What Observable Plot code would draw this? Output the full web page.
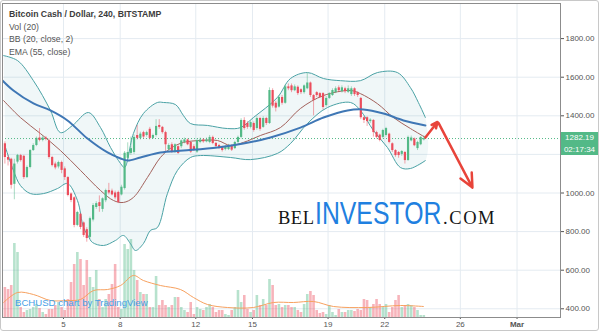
<!DOCTYPE html>
<html><head><meta charset="utf-8">
<script src="https://cdn.jsdelivr.net/npm/d3@7"></script>
<script src="https://cdn.jsdelivr.net/npm/@observablehq/plot@0.6"></script>
<style>
body{margin:0;background:#fff;}
#wrap{position:relative;width:600px;height:334px;overflow:hidden;background:#fff;font-family:"Liberation Sans",Arial,sans-serif;}
#wrap svg{position:absolute;left:0;top:0;}
.ov{position:absolute;white-space:nowrap;line-height:1;}
</style></head><body><div id="wrap"></div>
<script>
// ---- Data (Bitcoin Cash / Dollar, 4h candles, Feb 2018; x = day of February) ----
const firstCandleDay = 1.9;
const candleStep = 1 / 6;
const opens = [1255,1184,1175,1045,1160,1194,1190,1080,1132,1220,1246,1285,1272,1285,1270,1184,1150,1135,1158,1125,1080,995,975,832,890,845,810,770,860,925,950,915,960,1013,1010,1000,1003,990,1023,1180,1205,1210,1298,1283,1313,1298,1330,1283,1298,1350,1340,1313,1225,1250,1212,1240,1240,1262,1275,1262,1240,1212,1262,1275,1265,1262,1288,1257,1246,1236,1225,1225,1243,1230,1262,1288,1376,1360,1340,1360,1334,1386,1340,1386,1360,1531,1465,1445,1495,1465,1550,1555,1530,1548,1535,1520,1540,1570,1505,1520,1515,1515,1453,1490,1505,1520,1545,1525,1540,1522,1510,1540,1520,1490,1390,1390,1370,1376,1313,1300,1288,1298,1305,1255,1220,1210,1200,1210,1168,1270,1280,1230,1250,1275];
const highs = [1265,1195,1180,1175,1200,1200,1195,1140,1225,1255,1290,1334,1295,1293,1280,1190,1160,1165,1165,1135,1085,1000,980,905,895,850,820,875,945,955,985,975,1020,1050,1020,1010,1010,1040,1215,1260,1290,1300,1350,1315,1320,1320,1340,1305,1380,1380,1345,1320,1255,1260,1255,1245,1275,1285,1280,1265,1250,1280,1285,1282,1285,1298,1295,1262,1252,1242,1245,1252,1250,1268,1295,1385,1390,1370,1372,1368,1395,1392,1395,1392,1545,1540,1475,1505,1505,1560,1565,1565,1560,1555,1540,1560,1620,1575,1510,1525,1520,1520,1500,1520,1540,1550,1555,1555,1548,1555,1550,1545,1525,1495,1395,1395,1385,1380,1320,1305,1330,1340,1310,1260,1225,1215,1220,1215,1295,1295,1285,1268,1292,1295];
const lows = [1150,1140,1020,965,1150,1160,1070,1075,1125,1215,1240,1265,1265,1270,1175,1135,1120,1125,1100,1065,980,950,820,825,810,770,745,760,850,915,900,900,950,990,985,965,945,985,1015,1175,1195,1200,1275,1275,1280,1290,1275,1278,1290,1330,1305,1215,1215,1205,1205,1200,1230,1255,1245,1205,1215,1205,1255,1258,1260,1255,1250,1235,1225,1212,1218,1220,1215,1225,1255,1280,1325,1330,1332,1315,1325,1320,1335,1350,1355,1440,1420,1440,1455,1460,1530,1520,1525,1505,1510,1512,1535,1495,1400,1495,1490,1430,1445,1485,1500,1515,1520,1518,1515,1515,1500,1500,1495,1380,1360,1345,1360,1290,1280,1265,1280,1290,1255,1210,1185,1180,1190,1150,1165,1265,1240,1220,1245,1270];
const closes = [1184,1170,1040,1150,1195,1168,1080,1132,1220,1246,1283,1272,1285,1278,1184,1142,1130,1158,1117,1080,987,961,832,899,821,780,764,867,935,945,930,970,1013,1000,990,975,951,1030,1206,1210,1230,1288,1283,1305,1290,1313,1283,1298,1345,1340,1313,1250,1246,1215,1250,1205,1270,1275,1250,1212,1225,1272,1275,1265,1275,1288,1257,1241,1236,1220,1238,1246,1222,1262,1288,1376,1334,1340,1365,1324,1386,1330,1386,1360,1531,1450,1440,1495,1465,1550,1540,1530,1550,1515,1520,1555,1570,1505,1480,1505,1495,1443,1490,1515,1531,1540,1530,1545,1525,1540,1540,1510,1505,1390,1376,1370,1378,1313,1288,1272,1324,1334,1262,1220,1194,1194,1215,1168,1288,1285,1245,1262,1288,1282];
const volumes = [30,28,32,74,65,10,5,7,8,10,13,9,5,3,8,8,12,15,10,7,18,35,53,65,58,32,57,40,30,47,18,10,18,23,33,53,10,8,73,68,78,47,37,25,23,23,10,10,41,12,17,12,10,12,20,20,10,7,5,15,3,10,8,7,10,13,10,5,7,7,3,2,7,10,27,15,22,8,5,7,22,12,18,12,38,32,12,13,10,12,12,10,10,7,5,13,23,26,22,7,4,5,3,12,5,2,8,5,5,7,7,6,8,7,18,17,10,13,18,13,10,13,5,10,17,22,10,12,13,12,10,7,2,2];
const volMaDays = [1.83,2.57,3.41,4.31,5.21,5.90,6.59,7.33,8.02,8.70,9.23,10.13,11.19,11.88,12.62,13.68,15.05,16.11,17.17,18.23,19.29,21.08,22.83,24.05];
const volMaVals = [15,25,23,17,17,18,27,28,32,42,37,32,28,20,13,10,10,15,15,16,11,10,12,11];
const upperDays = [1.83,2.57,3.41,4.31,4.84,5.48,6.32,6.96,7.49,8.02,8.23,8.70,9.23,9.97,10.29,10.93,11.35,11.72,12.62,13.68,14.37,15.05,16.32,17.01,17.91,18.76,19.66,20.71,21.61,22.67,23.36,23.78,24.15];
const upperVals = [1712,1686,1582,1428,1313,1350,1417,1339,1236,1153,1132,1308,1412,1469,1469,1458,1401,1360,1350,1334,1339,1391,1495,1593,1624,1593,1582,1582,1624,1624,1546,1469,1391];
const lowerDays = [1.93,2.35,2.72,3.25,3.94,4.68,5.21,5.74,6.06,6.32,6.53,7.12,7.75,8.17,8.54,8.81,9.23,9.60,9.97,10.50,11.03,11.72,12.25,13.84,14.89,16.32,17.01,17.91,18.97,20.19,20.71,21.40,22.14,22.83,23.36,24.15];
const lowerVals = [1236,1117,1039,997,997,1023,1049,961,821,775,744,728,754,780,738,702,738,806,821,997,1117,1184,1194,1184,1173,1205,1256,1360,1443,1469,1428,1324,1236,1132,1127,1168];
const midDays = [1.83,2.72,3.78,4.84,5.90,6.96,7.65,8.17,8.70,9.44,10.13,10.66,11.35,12.25,13.15,13.84,14.52,15.42,16.48,17.54,18.76,20.19,20.71,21.61,22.46,23.36,24.15];
const midVals = [1479,1391,1308,1220,1117,1013,961,951,977,1080,1184,1231,1262,1272,1272,1246,1262,1298,1339,1438,1505,1531,1515,1463,1391,1334,1288];
const emaDays = [1.77,2.35,3.41,4.31,5.21,6.27,7.33,8.02,8.39,9.07,10.13,11.35,13.15,14.52,15.95,17.54,18.76,20.03,20.87,21.93,22.99,24.15];
const emaVals = [1583,1531,1464,1428,1376,1282,1210,1179,1168,1184,1210,1220,1236,1256,1288,1339,1391,1428,1433,1412,1376,1350];
const lastPrice = 1282.19;
const lastPriceText = "1282.19";
const countdownText = "02:17:34";
const priceTicks = [400,600,800,1000,1200,1400,1600,1800];
const priceTickLabelsShown = [400,600,800,1000,1400,1600,1800]; // 1200.00 sits under the price label boxes
const dayTicks = [5,8,12,15,19,22,26,29];
const dayTickLabels = ["5","8","12","15","19","22","26","Mar"];
const arrowFromDay = [24.15, 24.85];
const arrowFromPrice = [1288, 1362];
const arrowToDay = [24.79, 26.64];
const arrowToPrice = [1368, 1028];
const titleLines = ["Bitcoin Cash / Dollar, 240, BITSTAMP","Vol (20)","BB (20, close, 2)","EMA (55, close)"];

// ---- Build tables ----
const UP = "#53b987", DOWN = "#eb4d5c";
const candles = opens.map((o, i) => ({t: firstCandleDay + i * candleStep, o, h: highs[i], l: lows[i], c: closes[i], v: volumes[i]}));
const pts = (ds, vs) => ds.map((t, i) => ({t, v: vs[i]}));
const upper = pts(upperDays, upperVals), lower = pts(lowerDays, lowerVals);
const mid = pts(midDays, midVals), ema = pts(emaDays, emaVals), vma = pts(volMaDays, volMaVals);
const bandPoly = upper.concat(lower.slice().reverse());
const arrows = arrowFromDay.map((d, i) => ({x1: d, y1: arrowFromPrice[i], x2: arrowToDay[i], y2: arrowToPrice[i]}));

const W = 600, H = 334;
const M = {marginLeft: 2, marginRight: 40, marginTop: 3, marginBottom: 17};
const X = {domain: [1.773, 31.3]};
const Y = {domain: [354.9, 1981.9]};
const common = {width: W, height: H, ...M, color: {type: "identity"}};
const st = {background: "transparent", fontFamily: "Liberation Sans, Arial, sans-serif", fontSize: "8px", overflow: "visible"};

// Layer 1: grid, axes
const baseLayer = Plot.plot({...common, style: {...st, background: "#fff"},
  x: {...X, axis: null}, y: {...Y, axis: null},
  marks: [
    Plot.gridX(dayTicks, {stroke: "#e4ebf1", strokeOpacity: 1}),
    Plot.gridY(priceTicks, {stroke: "#e4ebf1", strokeOpacity: 1}),
    Plot.axisY(priceTickLabelsShown, {anchor: "right", tickFormat: d => d.toFixed(2), tickSize: 3, tickPadding: 2, color: "#555", fontSize: 8}),
    Plot.axisX(dayTicks.slice(0, -1), {anchor: "bottom", tickFormat: d => dayTickLabels[dayTicks.indexOf(d)], tickSize: 2, tickPadding: 2, color: "#555", fontSize: 8}),
    Plot.axisX(dayTicks.slice(-1), {anchor: "bottom", tickFormat: d => dayTickLabels[dayTicks.indexOf(d)], tickSize: 2, tickPadding: 2, color: "#555", fontSize: 8, fontWeight: "bold"})
  ]});

// Layer 2: volume
const volLayer = Plot.plot({...common, style: st,
  x: {...X, axis: null}, y: {domain: [0, 314], axis: null},
  marks: [
    Plot.ruleX(candles, {x: "t", y1: 0, y2: "v", stroke: d => d.c >= d.o ? UP : DOWN, strokeOpacity: 0.42, strokeWidth: 2.6}),
    Plot.line(vma, {x: "t", y: "v", stroke: "#f7a15f", strokeWidth: 1, curve: "catmull-rom"})
  ]});

// Layer 3: price
const priceLayer = Plot.plot({...common, style: st,
  x: {...X, axis: null}, y: {...Y, axis: null},
  marks: [
    Plot.line(bandPoly, {x: "t", y: "v", fill: "#3c9fa3", fillOpacity: 0.08, stroke: "none", curve: "catmull-rom"}),
    Plot.line(upper, {x: "t", y: "v", stroke: "#4aa2a5", strokeWidth: 1, curve: "catmull-rom"}),
    Plot.line(lower, {x: "t", y: "v", stroke: "#4aa2a5", strokeWidth: 1, curve: "catmull-rom"}),
    Plot.line(mid, {x: "t", y: "v", stroke: "#a3625c", strokeWidth: 1, curve: "catmull-rom"}),
    Plot.ruleY([lastPrice], {stroke: UP, strokeDasharray: "1,2", strokeWidth: 1}),
    Plot.ruleX(candles, {x: "t", y1: "l", y2: "h", stroke: d => d.c >= d.o ? UP : DOWN, strokeOpacity: 0.5, strokeWidth: 1}),
    Plot.ruleX(candles, {x: "t", y1: "o", y2: "c", stroke: d => d.c >= d.o ? UP : DOWN, strokeWidth: 2.2}),
    Plot.line(ema, {x: "t", y: "v", stroke: "#3f77b5", strokeWidth: 2, curve: "catmull-rom", clip: true}),
    Plot.arrow(arrows, {x1: "x1", y1: "y1", x2: "x2", y2: "y2", stroke: "#e8443a", strokeWidth: 2.5, headLength: 9, headAngle: 50}),
    Plot.frame({stroke: "#8c8c8c"})
  ]});

const wrap = document.getElementById("wrap");
wrap.append(baseLayer, volLayer, priceLayer);

function ov(text, css) {
  const d = document.createElement("div");
  d.className = "ov"; d.textContent = text; Object.assign(d.style, css); wrap.append(d); return d;
}
// legend
ov(titleLines[0], {left: "9px", top: "10px", fontSize: "8.7px", fontWeight: "bold", color: "#3c3c3c"});
ov(titleLines[1], {left: "9px", top: "22.6px", fontSize: "8.7px", color: "#555"});
ov(titleLines[2], {left: "9px", top: "35.1px", fontSize: "8.7px", color: "#555"});
ov(titleLines[3], {left: "9px", top: "47.6px", fontSize: "8.7px", color: "#555"});
// watermark
ov("BCHUSD chart by TradingView", {left: "15px", top: "298px", fontSize: "9.6px", color: "#47a0e6"});
// logo
ov("BEL", {left: "278px", top: "208.5px", fontSize: "18.5px", color: "#151515", fontFamily: "Liberation Serif, serif", letterSpacing: "0.5px"});
ov("INVESTOR", {left: "315px", top: "198px", fontSize: "31px", color: "#1f80e0", transformOrigin: "0 0", transform: "scaleX(0.8)"});
ov(".COM", {left: "443px", top: "208.5px", fontSize: "18.5px", color: "#151515", fontFamily: "Liberation Serif, serif", letterSpacing: "1.6px"});
// price label boxes positioned via the y scale
const py = priceLayer.scale("y").apply(lastPrice);
ov(lastPriceText, {left: "561px", top: (py - 6) + "px", width: "37px", height: "12px", lineHeight: "12px", background: "#53b987", color: "#fff", fontSize: "8px", textAlign: "center"});
ov(countdownText, {left: "561px", top: (py + 6) + "px", width: "37px", height: "11px", lineHeight: "11px", background: "#53b987", color: "#fff", fontSize: "8px", textAlign: "center"});
// outer border
const b = document.createElement("div");
Object.assign(b.style, {position: "absolute", left: "0px", top: "0px", width: "597px", height: "329px", border: "1px solid #c8c8c8", borderRadius: "3px", pointerEvents: "none"});
wrap.append(b);
</script>
</body></html>
